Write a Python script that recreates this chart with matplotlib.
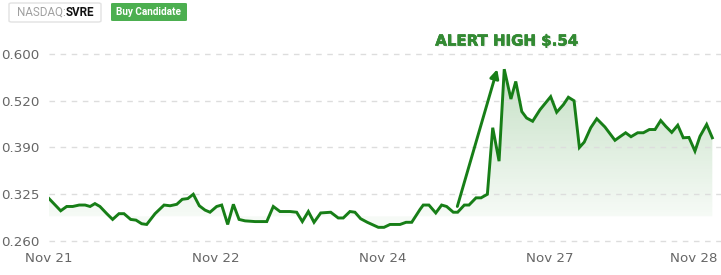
import numpy as np
import matplotlib
matplotlib.use("Agg")
import matplotlib.pyplot as plt
from matplotlib.patches import FancyBboxPatch
import matplotlib.patheffects as pe

# price series, x in trading days from Nov 21
days = [0.0, 0.070, 0.106, 0.142, 0.181, 0.216, 0.246, 0.275, 0.305, 0.346,
        0.381, 0.419, 0.449, 0.489, 0.521, 0.555, 0.585, 0.635, 0.689, 0.725,
        0.765, 0.798, 0.831, 0.864, 0.900, 0.934, 0.964, 1.004, 1.034, 1.070,
        1.104, 1.138, 1.174, 1.234, 1.304, 1.343, 1.383, 1.443, 1.483, 1.517,
        1.553, 1.587, 1.627, 1.687, 1.732, 1.762, 1.802, 1.832, 1.866, 1.906,
        1.972, 2.006, 2.042, 2.102, 2.138, 2.172, 2.222, 2.241, 2.275, 2.316,
        2.351, 2.381, 2.421, 2.447, 2.487, 2.515, 2.557, 2.587, 2.625, 2.657,
        2.695, 2.726, 2.766, 2.795, 2.831, 2.860, 2.896, 2.940, 3.004, 3.040,
        3.080, 3.110, 3.144, 3.176, 3.205, 3.244, 3.280, 3.329, 3.389, 3.419,
        3.453, 3.485, 3.525, 3.559, 3.595, 3.629, 3.663, 3.693, 3.729, 3.765,
        3.798, 3.832, 3.868, 3.898, 3.938, 3.972]
price = [0.319, 0.302, 0.308, 0.308, 0.310, 0.310, 0.308, 0.312, 0.308, 0.298,
         0.290, 0.298, 0.298, 0.290, 0.289, 0.284, 0.283, 0.298, 0.310, 0.309,
         0.311, 0.318, 0.319, 0.325, 0.309, 0.303, 0.300, 0.308, 0.310, 0.283,
         0.311, 0.290, 0.288, 0.287, 0.287, 0.308, 0.301, 0.301, 0.300, 0.287,
         0.301, 0.286, 0.299, 0.300, 0.292, 0.292, 0.301, 0.300, 0.291, 0.286,
         0.279, 0.279, 0.283, 0.283, 0.286, 0.286, 0.304, 0.310, 0.310, 0.299,
         0.310, 0.308, 0.300, 0.300, 0.310, 0.310, 0.320, 0.320, 0.325, 0.445,
         0.371, 0.574, 0.523, 0.553, 0.490, 0.472, 0.463, 0.495, 0.527, 0.488,
         0.509, 0.526, 0.520, 0.390, 0.405, 0.445, 0.470, 0.447, 0.410, 0.420,
         0.431, 0.420, 0.431, 0.431, 0.440, 0.440, 0.465, 0.449, 0.432, 0.452,
         0.417, 0.418, 0.385, 0.421, 0.454, 0.417]

y_ticks = [0.260, 0.325, 0.390, 0.520, 0.600]
y_labels = ["0.260", "0.325", "0.390", "0.520", "0.600"]
x_ticks = [0, 1, 2, 3, 4]
x_labels = ["Nov 21", "Nov 22", "Nov 24", "Nov 27", "Nov 28"]
fill_base = 0.2943
arrow_from = (2.445, 0.308)
arrow_to = (2.684, 0.574)
alert_text = "ALERT HIGH $.54"

green = "#177e17"
yt = np.array(y_ticks)
pos = np.arange(len(yt), dtype=float)


def forward(v):
    v = np.asarray(v, dtype=float)
    p = np.interp(v, yt, pos)
    p = np.where(v < yt[0], (v - yt[0]) / (yt[1] - yt[0]), p)
    p = np.where(v > yt[-1], pos[-1] + (v - yt[-1]) / (yt[-1] - yt[-2]), p)
    return p


def inverse(p):
    p = np.asarray(p, dtype=float)
    v = np.interp(p, pos, yt)
    v = np.where(p < 0, yt[0] + p * (yt[1] - yt[0]), v)
    v = np.where(p > pos[-1], yt[-1] + (p - pos[-1]) * (yt[-1] - yt[-2]), v)
    return v


fig = plt.figure(figsize=(7.21, 2.75), dpi=100)
ax = fig.add_axes([49 / 721, 30 / 275, 672 / 721, 215 / 275])
ax.set_yscale("function", functions=(forward, inverse))
ax.set_xlim(0, 672 / 167)
ax.set_ylim(inverse(-4 / 46.75), inverse(4 + 24 / 46.75))

# gradient fill clipped to the area under the line
coll = ax.fill_between(days, price, fill_base, facecolor="none", edgecolor="none")
f = np.linspace(0, 1, 256)
alpha = np.interp(f, [0.13, 0.82], [0.04, 0.27])
grad = np.zeros((256, 1, 4))
grad[:, 0, 0] = 0.15
grad[:, 0, 1] = 0.55
grad[:, 0, 2] = 0.15
grad[:, 0, 3] = alpha
im = ax.imshow(grad, extent=[0, 1, 0, 1], origin="lower", aspect="auto",
               transform=ax.transAxes, interpolation="bilinear", zorder=1)
im.set_clip_path(coll.get_paths()[0], ax.transData)

ax.plot(days, price, color=green, lw=2.1, zorder=3, solid_joinstyle="miter")

ax.annotate("", xy=arrow_to, xytext=arrow_from,
            arrowprops=dict(arrowstyle="-|>", color=green, lw=2.1,
                            mutation_scale=13, shrinkA=0, shrinkB=0),
            annotation_clip=False, zorder=4)

ax.text(507 / 721, 234 / 275, alert_text, transform=fig.transFigure,
        ha="center", va="center", fontsize=10.8, fontweight="heavy",
        color="#338a33", family="DejaVu Sans",
        path_effects=[pe.withSimplePatchShadow(offset=(1, -1), shadow_rgbFace="#aaaaaa", alpha=0.2),
                      pe.Stroke(linewidth=0.4, foreground="#338a33"), pe.Normal()])

ax.set_yticks(y_ticks)
ax.set_yticklabels(y_labels)
ax.yaxis.set_minor_locator(matplotlib.ticker.NullLocator())
ax.set_xticks(x_ticks)
ax.set_xticklabels(x_labels)
xl = ax.get_xticklabels()
xl[-1].set_ha("right")
ax.grid(axis="y", color="#dddddd", linestyle=(0, (4, 4)), lw=1)
ax.tick_params(length=0, labelsize=9.6, colors="#666666")
ax.tick_params(axis="y", pad=7)
ax.tick_params(axis="x", pad=5)
for s in ax.spines.values():
    s.set_visible(False)

# header badges
box = FancyBboxPatch((9 / 721, 253 / 275), 92 / 721, 19 / 275,
                     boxstyle="round,pad=0,rounding_size=0.004",
                     transform=fig.transFigure, facecolor="white",
                     edgecolor="#e2e2e2", lw=1)
fig.patches.append(box)
fig.text(17 / 721, 262.5 / 275, "NASDAQ:", ha="left", va="center",
         fontsize=8.4, color="#a0a0a0", family="Roboto")
fig.text(66 / 721, 262.5 / 275, "SVRE", ha="left", va="center",
         fontsize=8.4, color="#111111", family="Roboto", fontweight="bold")
badge = FancyBboxPatch((111 / 721, 254 / 275), 76 / 721, 18 / 275,
                       boxstyle="round,pad=0,rounding_size=0.003",
                       transform=fig.transFigure, facecolor="#4caf50",
                       edgecolor="none")
fig.patches.append(badge)
fig.text(149 / 721, 263 / 275, "Buy Candidate", ha="center", va="center",
         fontsize=7.2, color="white", family="Roboto", fontweight="bold")

fig.savefig("out.png", dpi=100)
